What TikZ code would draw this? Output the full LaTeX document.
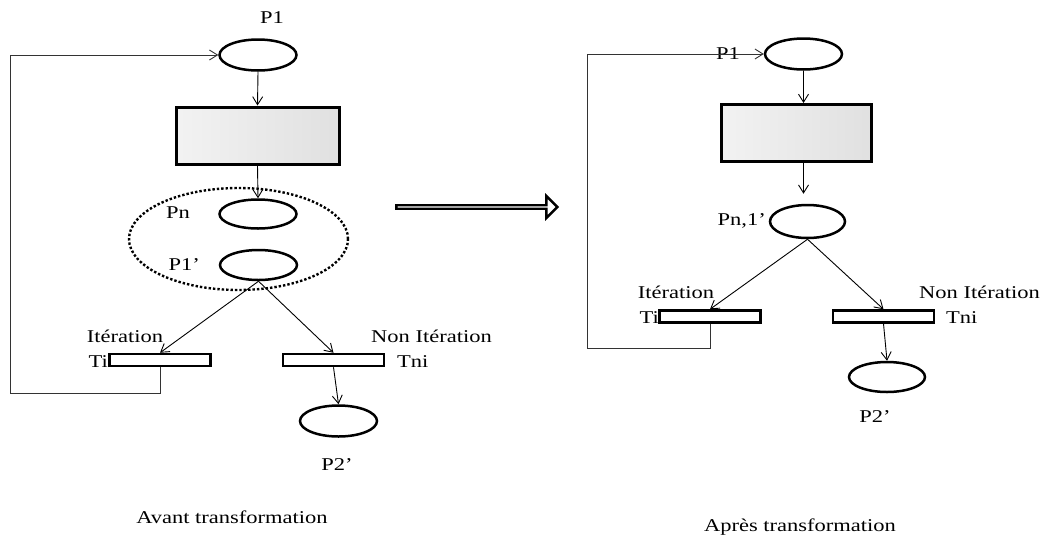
\documentclass[tikz,border=0pt]{standalone}
\usepackage{fontspec}
\setmainfont{Liberation Serif}[FakeStretch=1.25]
\usetikzlibrary{arrows.meta,positioning,shapes.geometric,shapes.arrows}

\begin{document}
\begin{tikzpicture}[x=1pt, y=-1pt,
  font=\fontsize{18}{21}\selectfont,
  place/.style={draw, ellipse, line width=2.5pt, minimum width=77pt, minimum height=31pt, inner sep=0pt},
  trans/.style={draw, rectangle, line width=2.5pt, minimum width=101pt, minimum height=12pt, inner sep=0pt},
  marble/.style={draw, rectangle, line width=3pt, minimum width=163pt, minimum height=57pt, inner sep=0pt,
    left color=black!5, right color=black!12},
  lab/.style={inner sep=1pt},
  captext/.style={inner sep=1pt},
  arr/.style={-{Straight Barb[length=8pt, width=10pt]}, line width=0.9pt},
  loopline/.style={arr, draw=black!80}
]
  \useasboundingbox (0,0) rectangle (1048,549);

  % avant transformation
  \node[place] (p1L) at (258,55) {};
  \node[marble] (boxL) at (257.5,135.5) {};
  \node[draw, ellipse, dotted, line width=2.4pt, minimum width=219pt, minimum height=102pt] (grpL) at (238.5,239) {};
  \node[place, minimum height=29pt] (pnL) at (258,214) {};
  \node[place, minimum height=30pt] (p1pL) at (258.5,265) {};
  \node[trans] (tiL) at (160,360) {};
  \node[trans] (tniL) at (333.5,360) {};
  \node[place] (p2L) at (338.5,421) {};

  \node[lab] at (272,18) {P1};
  \node[lab, anchor=east] at (191,213) {Pn};
  \node[lab, anchor=east] at (201,265) {P1’};
  \node[lab] at (125,336) {Itération};
  \node[lab, anchor=east] at (109,362) {Ti};
  \node[lab, anchor=west] at (370,336) {Non Itération};
  \node[lab, anchor=west] at (396,362) {Tni};
  \node[lab] at (337,465) {P2’};
  \node[captext] (capL) at (232,517) {Avant transformation};

  \coordinate (loopL) at (10,393);
  \draw[arr] (p1L.south) -- (boxL.north);
  \draw[arr] (boxL.south) -- (pnL.north);
  \draw[arr] (p1pL.south) -- (tiL.north);
  \draw[arr] (p1pL.south) -- (tniL.north);
  \draw[arr] (tniL.south) -- (p2L.north);
  \draw[loopline] (tiL.south) |- (loopL) |- (p1L.west);

  % fleche de transformation
  \node[draw, single arrow, line width=2.4pt, minimum height=161pt, minimum width=22pt,
    single arrow head extend=6.5pt, inner sep=0pt] (trf) at (476,207) {};

  % apres transformation
  \node[place] (p1R) at (803.5,54) {};
  \node[marble, minimum width=150pt] (boxR) at (796,133) {};
  \node[place, minimum width=75pt, minimum height=33pt] (pnR) at (807.5,221.5) {};
  \node[trans] (tiR) at (710,316.5) {};
  \node[trans] (tniR) at (883.5,316.5) {};
  \node[place, minimum width=76pt, minimum height=30pt] (p2R) at (887,377) {};

  \node[lab] at (728,54) {P1};
  \node[lab, anchor=east] at (767,221) {Pn,1’};
  \node[lab] at (676,292) {Itération};
  \node[lab, anchor=east] at (660,318) {Ti};
  \node[lab, anchor=west] at (918,292) {Non Itération};
  \node[lab, anchor=west] at (945,318) {Tni};
  \node[lab] at (875,417) {P2’};
  \node[captext] (capR) at (800,527) {Après transformation};

  \coordinate (loopR) at (587,348);
  \draw[arr] (p1R.south) -- (boxR.north -| p1R.south);
  \draw[arr, shorten >=10pt] (boxR.south -| p1R.south) -- (pnR.north -| p1R.south);
  \draw[arr] (pnR.south) -- (tiR.north);
  \draw[arr] (pnR.south) -- (tniR.north);
  \draw[arr] (tniR.south) -- (p2R.north);
  \draw[loopline] (tiR.south) |- (loopR) |- (p1R.west);
\end{tikzpicture}
\end{document}
